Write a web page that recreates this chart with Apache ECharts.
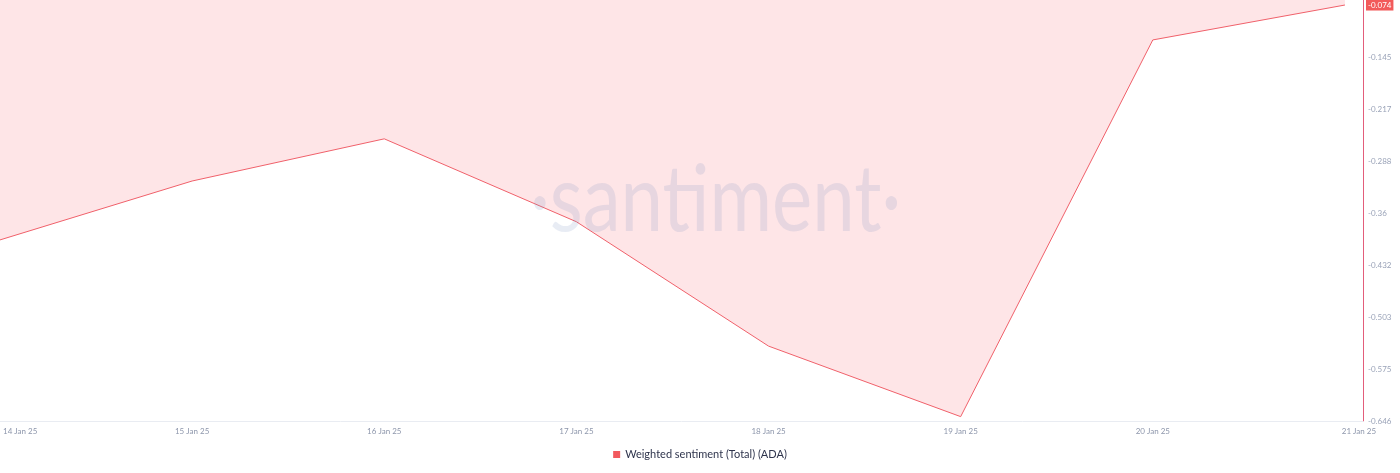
<!DOCTYPE html>
<html>
<head>
<meta charset="utf-8">
<script src="https://cdn.jsdelivr.net/npm/echarts@6/dist/echarts.min.js"></script>
<style>html,body{margin:0;padding:0;background:#fff}#c{width:1400px;height:473px}</style>
</head>
<body>
<div id="c"></div>
<script>
var categories = ['14 Jan 25','15 Jan 25','16 Jan 25','17 Jan 25','18 Jan 25','19 Jan 25','20 Jan 25','21 Jan 25'];
var sentiment = [-0.397, -0.316, -0.258, -0.372, -0.543, -0.640, -0.122, -0.074];
var yTickLabels = ['-0.646','-0.575','-0.503','-0.432','-0.36','-0.288','-0.217','-0.145','-0.074'];
var seriesName = 'Weighted sentiment (Total) (ADA)';

var yMin = -0.646, yInterval = 0.0715;
var points = sentiment.map(function (v, i) { return [i, v]; });

var chart = echarts.init(document.getElementById('c'));
chart.setOption({
  animation: false,
  backgroundColor: '#fff',
  textStyle: { fontFamily: 'Lato, "Open Sans", sans-serif' },
  grid: { left: 0, right: 37, top: 0, bottom: 52, outerBoundsMode: 'none', containLabel: false },
  legend: {
    bottom: 8, left: 'center',
    icon: 'rect', itemWidth: 7, itemHeight: 7, itemGap: 10,
    textStyle: { fontSize: 11, color: '#2f354d', fontFamily: 'Lato, "Open Sans", sans-serif' },
    data: [seriesName]
  },
  graphic: [{
    type: 'text', left: 530, top: 154, z: 10, silent: true,
    scaleX: 0.81,
    style: { text: '·santiment·', font: 'normal 94px Lato, "Open Sans", sans-serif', fill: 'rgba(120,140,190,0.17)' }
  }],
  xAxis: {
    type: 'value', min: 0, max: 7.094, interval: 1,
    axisLine: { show: true, onZero: false, lineStyle: { color: '#e9ecf2', width: 1 } },
    axisTick: { show: false },
    splitLine: { show: false },
    axisLabel: {
      color: '#8d96ab', fontSize: 8, margin: 6,
      alignMinLabel: 'left',
      formatter: function (v) {
        var i = Math.round(v);
        if (Math.abs(v - i) > 1e-6 || !categories[i]) return '';
        if (i === 0) return '{first|' + categories[i] + '}';
        if (i === categories.length - 1) return '{last|' + categories[i] + '}';
        return categories[i];
      },
      rich: {
        first: { fontSize: 8, color: '#8d96ab', padding: [0, 0, 0, 3] },
        last: { fontSize: 8, color: '#8d96ab', padding: [0, 0, 0, 28] }
      }
    }
  },
  yAxis: {
    type: 'value', position: 'right',
    min: yMin, max: -0.0671, interval: yInterval,
    axisLine: { show: true, onZero: false, lineStyle: { color: '#e35d7b', width: 1 } },
    axisTick: { show: false },
    splitLine: { show: false },
    axisLabel: {
      color: '#9aa3b8', fontSize: 8, margin: 3,
      formatter: function (v) {
        var k = (v - yMin) / yInterval;
        var i = Math.round(k);
        if (Math.abs(k - i) > 1e-6 || !yTickLabels[i]) return '';
        if (i === yTickLabels.length - 1) return '{badge|' + yTickLabels[i] + '}';
        return '{n|' + yTickLabels[i] + '}';
      },
      rich: {
        n: { fontSize: 8, color: '#9aa3b8', padding: [0, 0, 0, 2] },
        badge: { fontSize: 8, color: '#ffffff', backgroundColor: '#f25a5a', padding: [2, 2, 1, 2] }
      }
    }
  },
  series: [{
    name: seriesName,
    type: 'line',
    data: points,
    symbol: 'none',
    z: 3,
    color: '#f25a5e',
    lineStyle: { color: '#f0606a', width: 1 },
    areaStyle: { origin: 'end', color: '#fee5e7', opacity: 1 }
  }]
});
</script>
</body>
</html>
